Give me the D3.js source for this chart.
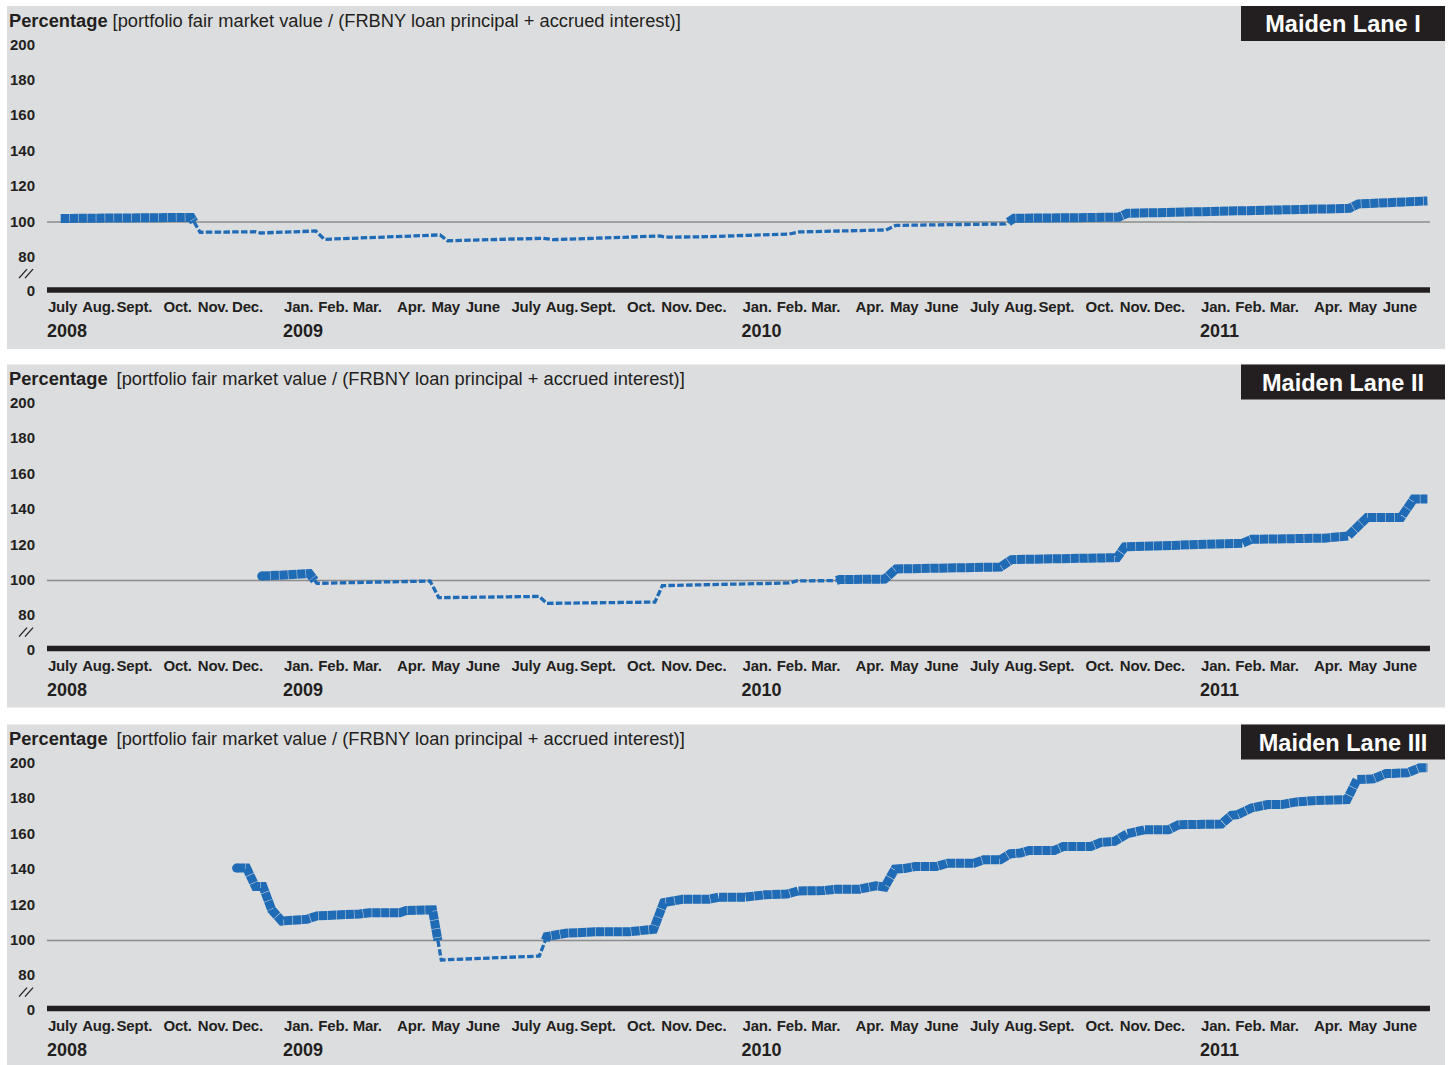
<!DOCTYPE html>
<html>
<head>
<meta charset="utf-8">
<script src="https://cdn.jsdelivr.net/npm/d3@7"></script>
<style>
  html, body { margin: 0; padding: 0; background: #ffffff; }
  svg { display: block; }
  text { font-family: "Liberation Sans", Arial, Helvetica, sans-serif; fill: #231f20; }
</style>
</head>
<body>
<svg id="chart" width="1449" height="1065"></svg>
<script>
// ---------------- DATA ----------------
const panelNames = ["Maiden Lane I", "Maiden Lane II", "Maiden Lane III"];
const titleBold = "Percentage";
const titleRest = "[portfolio fair market value / (FRBNY loan principal + accrued interest)]";
const yTickValues = [200, 180, 160, 140, 120, 100, 80];
const zeroLabel = "0";
const monthNames = ["July", "Aug.", "Sept.", "Oct.", "Nov.", "Dec.", "Jan.", "Feb.", "Mar.", "Apr.", "May", "June"];
const monthStart = "2008-07-01";
const monthCount = 36;
const yearLabels = ["2008", "2009", "2010", "2011"];
const yearDates = ["2008-07-01", "2009-01-01", "2010-01-01", "2011-01-01"];

// Maiden Lane I
const ml1Dates = ["2008-07-08","2008-10-20","2008-10-27","2008-12-10","2008-12-14","2009-01-27","2009-02-03","2009-05-06","2009-05-12","2009-06-03","2009-07-27","2009-08-04","2009-10-28","2009-11-02","2009-12-04","2010-02-08","2010-02-16","2010-04-26","2010-05-04","2010-07-30","2010-08-06","2010-10-28","2010-11-04","2011-04-30","2011-05-07","2011-07-01"];
const ml1Values = [102.0,102.6,94.2,94.5,93.8,94.9,90.2,92.7,89.4,89.8,90.8,90.0,92.1,91.4,91.7,93.2,94.4,95.5,98.1,98.9,102.1,102.7,104.9,107.7,110.2,111.9];

// Maiden Lane II
const ml2Dates = ["2008-12-15","2009-01-22","2009-01-28","2009-04-28","2009-05-05","2009-07-24","2009-07-30","2009-10-24","2009-10-30","2010-02-08","2010-02-14","2010-03-17","2010-03-20","2010-04-25","2010-05-04","2010-07-26","2010-08-04","2010-10-27","2010-11-02","2011-02-04","2011-02-11","2011-04-10","2011-04-29","2011-05-14","2011-06-10","2011-06-20","2011-07-01"];
const ml2Values = [102.5,103.9,98.4,99.7,90.3,91.0,87.1,87.8,97.1,98.6,99.8,99.9,100.5,100.8,106.5,107.6,111.8,112.9,119.0,121.1,123.3,123.9,125.2,135.6,135.6,146.0,146.0];

// Maiden Lane III
const ml3Dates = ["2008-11-25","2008-12-03","2008-12-10","2008-12-16","2008-12-23","2008-12-31","2009-01-20","2009-01-28","2009-03-03","2009-03-11","2009-04-04","2009-04-09","2009-04-30","2009-05-07","2009-07-24","2009-07-30","2009-08-14","2009-09-10","2009-10-04","2009-10-23","2009-10-31","2009-11-15","2009-12-06","2009-12-14","2010-01-04","2010-01-20","2010-02-06","2010-02-15","2010-03-07","2010-03-17","2010-04-05","2010-04-18","2010-04-25","2010-05-03","2010-05-11","2010-05-19","2010-06-05","2010-06-14","2010-07-05","2010-07-13","2010-07-26","2010-08-03","2010-08-11","2010-08-18","2010-09-07","2010-09-14","2010-10-06","2010-10-14","2010-10-25","2010-11-04","2010-11-12","2010-11-18","2010-12-07","2010-12-15","2011-01-18","2011-01-26","2011-01-31","2011-02-11","2011-02-24","2011-03-07","2011-03-19","2011-04-01","2011-04-28","2011-05-06","2011-05-19","2011-05-29","2011-06-15","2011-06-25","2011-07-01"];
const ml3Values = [140.9,140.9,130.5,130.5,117.3,111.0,112.0,113.9,115.0,115.7,115.7,116.9,117.3,89.0,91.2,102.2,104.1,105.0,105.0,106.3,121.4,123.3,123.3,124.5,124.5,125.8,126.2,128.0,128.2,129.0,129.0,130.9,130.2,140.3,140.7,141.8,141.8,143.7,143.7,145.6,145.6,149.0,149.4,150.9,150.9,153.1,153.1,155.4,156.0,160.3,161.6,162.6,162.6,165.4,165.8,170.7,171.1,174.9,176.8,176.8,178.3,179.0,179.6,190.9,191.3,194.3,194.7,197.6,197.6];

const seriesDates = [ml1Dates, ml2Dates, ml3Dates];
const seriesValues = [ml1Values, ml2Values, ml3Values];

// ---------------- LAYOUT ----------------
const W = 1449;
const panelTops = [6, 364.5, 724.5];
const panelH = 343;
const bgColor = "#dcdddf";
const blue = "#1f6bb6";
const dark = "#231f20";
const plotLeft = 47, plotRight = 1430;
const labelStep = 34.3; // spacing of month labels inside a quarter

const parse = d3.timeParse("%Y-%m-%d");
const x = d3.scaleTime()
  .domain([parse("2008-07-01"), parse("2011-07-01")])
  .range([51.9, 1427.4]);

// piecewise y scale with axis break between 0 and 75
const y = d3.scaleLinear()
  .domain([0, 75, 200])
  .range([284, 216 + 25 * 1.77, 216 - 100 * 1.77]);

const svg = d3.select("#chart");

function splitSegments(dates, values) {
  const pts = dates.map((d, i) => ({ date: parse(d), v: values[i] }));
  const segs = [];
  let cur = null;
  const push = (style, a, b) => {
    if (cur && cur.style === style) { cur.pts.push(b); }
    else { cur = { style, pts: [a, b] }; segs.push(cur); }
  };
  for (let i = 0; i < pts.length - 1; i++) {
    const a = pts[i], b = pts[i + 1];
    const sa = a.v >= 100 ? "solid" : "dash";
    const sb = b.v >= 100 ? "solid" : "dash";
    if (sa === sb) { push(sa, a, b); }
    else {
      const t = (100 - a.v) / (b.v - a.v);
      const m = { date: new Date(+a.date + t * (b.date - a.date)), v: 100 };
      push(sa, a, m);
      push(sb, m, b);
    }
  }
  return segs;
}

const line = d3.line().x(d => x(d.date)).y(d => y(d.v));

panelNames.forEach((name, pi) => {
  const g = svg.append("g").attr("transform", `translate(0,${panelTops[pi]})`);

  g.append("rect").attr("x", 7).attr("y", 0).attr("width", W - 7 - 4).attr("height", panelH).attr("fill", bgColor);

  // title
  const t = g.append("text").attr("x", 9).attr("y", 20.5).style("font-size", "18.3px");
  t.append("tspan").style("font-weight", "bold").text(titleBold);
  t.append("tspan").attr("dx", pi === 0 ? 5 : 9).text(titleRest);

  // name box
  g.append("rect").attr("x", 1241).attr("y", 0).attr("width", 204).attr("height", 35).attr("fill", dark);
  g.append("text").attr("x", 1343).attr("y", 26).attr("text-anchor", "middle")
    .style("font-size", "23.5px").style("font-weight", "bold").style("fill", "#ffffff").text(name);

  // y tick labels
  g.selectAll("text.yt").data(yTickValues).join("text").attr("class", "yt")
    .attr("x", 35).attr("y", d => y(d) + 4.5).attr("text-anchor", "end")
    .style("font-size", "15px").style("font-weight", "bold").text(d => d);
  g.append("text").attr("x", 35).attr("y", y(0) + 6).attr("text-anchor", "end")
    .style("font-size", "15px").style("font-weight", "bold").text(zeroLabel);

  // axis break symbol
  const by = (y(75) + y(0)) / 2 - 6;
  [0, 6].forEach(dx => {
    g.append("line").attr("x1", 19 + dx).attr("y1", by + 6).attr("x2", 27 + dx).attr("y2", by - 3)
      .attr("stroke", dark).attr("stroke-width", 1.3);
  });

  // 100 reference line
  g.append("line").attr("x1", plotLeft).attr("x2", plotRight).attr("y1", y(100)).attr("y2", y(100))
    .attr("stroke", "#8c8c8c").attr("stroke-width", 1.4);

  // zero baseline
  g.append("line").attr("x1", plotLeft).attr("x2", plotRight).attr("y1", y(0)).attr("y2", y(0))
    .attr("stroke", dark).attr("stroke-width", 5.5);

  // month labels: packed per quarter, quarter start from the time scale
  const months = d3.range(monthCount).map(i => d3.timeMonth.offset(parse(monthStart), i));
  g.selectAll("text.mo").data(months).join("text").attr("class", "mo")
    .attr("x", (d, i) => {
      const k = i % 3;
      const qStart = d3.timeMonth.offset(d, -k);
      return x(qStart) + (i < 6 ? -4 : 1) + k * labelStep;
    })
    .attr("y", 306).attr("text-anchor", "start")
    .style("font-size", "15px").style("font-weight", "bold").style("letter-spacing", "-0.2px")
    .text((d, i) => monthNames[i % 12]);

  // year labels
  g.selectAll("text.yr").data(yearLabels).join("text").attr("class", "yr")
    .attr("x", (d, i) => x(parse(yearDates[i])) - (i === 0 ? 5 : 0)).attr("y", 331)
    .style("font-size", "18px").style("font-weight", "bold").text(d => d);

  // series
  const segs = splitSegments(seriesDates[pi], seriesValues[pi]);
  segs.filter(s => s.style === "dash").forEach(s => {
    g.append("path").attr("d", line(s.pts)).attr("fill", "none").attr("stroke", blue)
      .attr("stroke-width", 3.3).attr("stroke-dasharray", "6.5,2.3");
  });
  segs.filter(s => s.style === "solid").forEach((s, si) => {
    g.append("path").attr("d", line(s.pts)).attr("fill", "none").attr("stroke", blue)
      .attr("stroke-width", 9).attr("stroke-linejoin", "miter").attr("stroke-miterlimit", 2)
      .attr("stroke-dasharray", "8.4,0.5");
    if (pi > 0 && si === 0) {
      // rounded start of the first solid run
      const p0 = s.pts[0];
      g.append("circle").attr("cx", x(p0.date)).attr("cy", y(p0.v)).attr("r", 4.5).attr("fill", blue);
    }
  });
});
</script>
</body>
</html>
